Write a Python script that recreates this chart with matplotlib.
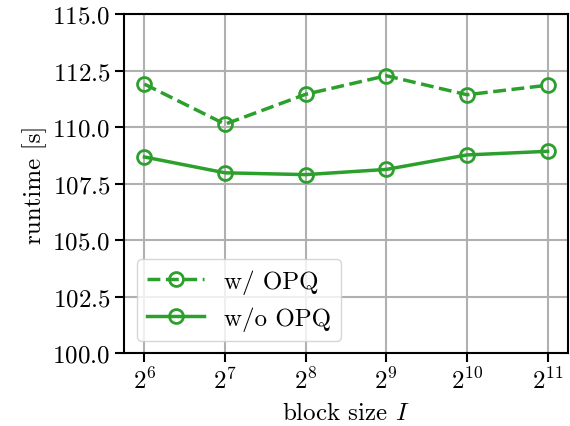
import numpy as np
import matplotlib
matplotlib.use("Agg")
import matplotlib.pyplot as plt

plt.rcParams['font.family'] = 'serif'
plt.rcParams['font.serif'] = ['cmr10']
plt.rcParams['mathtext.fontset'] = 'cm'
plt.rcParams['axes.formatter.use_mathtext'] = True
plt.rcParams['font.size'] = 18

block_sizes = [2**6, 2**7, 2**8, 2**9, 2**10, 2**11]
with_opq = [111.9, 110.13, 111.45, 112.27, 111.43, 111.85]
without_opq = [108.68, 107.98, 107.9, 108.13, 108.77, 108.93]

fig, ax = plt.subplots(figsize=(5.7, 4.27), dpi=100)
ax.plot(block_sizes, with_opq, '--o', color='#2ca02c', lw=2.5, ms=10,
        mfc='none', mew=2, label='w/ OPQ')
ax.plot(block_sizes, without_opq, '-o', color='#2ca02c', lw=2.5, ms=10,
        mfc='none', mew=2, label='w/o OPQ')

ax.set_xscale('log', base=2)
ax.set_xticks(block_sizes)
ax.set_xticklabels([r'$2^{%d}$' % k for k in range(6, 12)])
ax.minorticks_off()
ax.set_ylim(100, 115)
ax.set_yticks(np.arange(100, 115.1, 2.5))
ax.grid(True, color='#b0b0b0', lw=1.5)
for s in ax.spines.values():
    s.set_linewidth(1.5)
ax.tick_params(width=1.5, length=6.5)

ax.set_xlabel('block size $I$', labelpad=6)
ax.set_ylabel('runtime [s]')
ax.legend(loc='lower left', handlelength=2.3)

fig.subplots_adjust(left=0.218, right=0.996, top=0.965, bottom=0.17)
fig.savefig('out.png', dpi=100)
